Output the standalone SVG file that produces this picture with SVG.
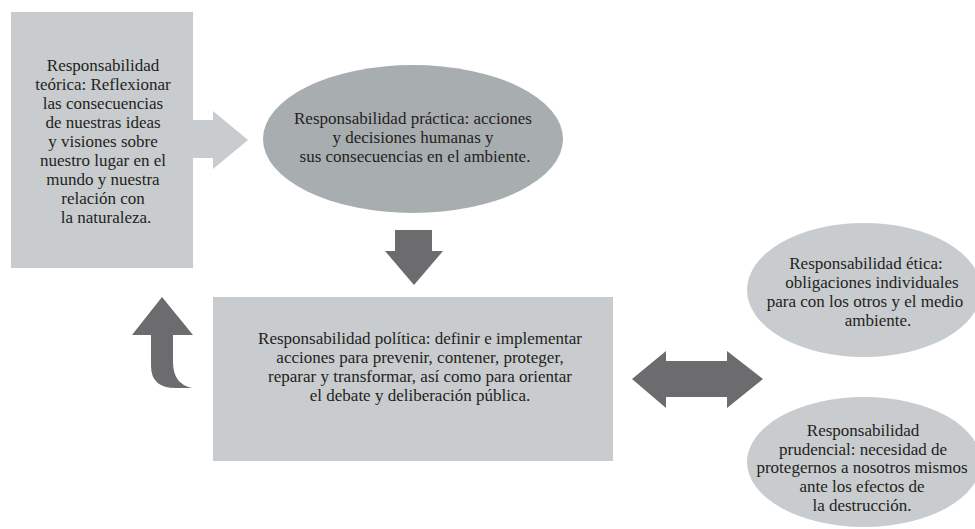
<svg xmlns="http://www.w3.org/2000/svg" width="975" height="529" viewBox="0 0 975 529">
  <style>
    .light { fill: #c8ccce; }
    .mid { fill: #a8adb0; }
    .dark { fill: #6c6c6e; }
    .lbl { font-family: "Liberation Serif", "Times New Roman", serif; font-size: 17px; fill: #231f20; text-anchor: middle; }
  </style>
  <rect width="975" height="529" fill="#ffffff"/>

  <!-- connectors -->
  <g id="connectors">
    <path id="arrow-teorica-practica" class="light" d="M193,120 L213,120 L213,111 L248,140 L213,169 L213,158 L193,158 Z"/>
    <path id="arrow-practica-politica" class="dark" d="M395,230 L432,230 L432,251 L443,251 L414,285 L385,251 L395,251 Z"/>
    <path id="arrow-politica-teorica" class="dark" d="M151,335 L151,366 Q151,388 176,388 L192,388 Q173,384 173,362 L173,335 L193,335 L162,297 L132,335 Z"/>
    <path id="arrow-politica-etica" class="dark" d="M632,379 L666,351 L666,361 L727,361 L727,351 L763,379 L727,408 L727,397 L666,397 L666,408 Z"/>
  </g>

  <g class="lbl">
    <g id="node-teorica">
      <rect class="light" x="11" y="12" width="182" height="256"/>
      <text x="103" y="71">Responsabilidad</text>
      <text x="103" y="90">teórica: Reflexionar</text>
      <text x="103" y="109">las consecuencias</text>
      <text x="103" y="128">de nuestras ideas</text>
      <text x="103" y="147">y visiones sobre</text>
      <text x="103" y="166">nuestro lugar en el</text>
      <text x="103" y="185">mundo y nuestra</text>
      <text x="103" y="204">relación con</text>
      <text x="106" y="223">la naturaleza.</text>
    </g>

    <g id="node-practica">
      <ellipse class="mid" cx="413" cy="139" rx="150" ry="74"/>
      <text x="413" y="124">Responsabilidad práctica: acciones</text>
      <text x="413" y="143">y decisiones humanas y</text>
      <text x="415" y="162">sus consecuencias en el ambiente.</text>
    </g>

    <g id="node-politica">
      <rect class="light" x="213" y="297" width="400" height="164"/>
      <text x="420" y="344">Responsabilidad política: definir e implementar</text>
      <text x="420" y="363">acciones para prevenir, contener, proteger,</text>
      <text x="420" y="382">reparar y transformar, así como para orientar</text>
      <text x="420" y="401">el debate y deliberación pública.</text>
    </g>

    <g id="node-etica">
      <ellipse class="light" cx="864" cy="290" rx="117" ry="67"/>
      <text x="866" y="269">Responsabilidad ética:</text>
      <text x="872" y="288">obligaciones individuales</text>
      <text x="865" y="307">para con los otros y el medio</text>
      <text x="878" y="326">ambiente.</text>
    </g>

    <g id="node-prudencial">
      <ellipse class="light" cx="864" cy="462" rx="117" ry="65"/>
      <text x="863" y="436">Responsabilidad</text>
      <text x="863" y="455">prudencial: necesidad de</text>
      <text x="862" y="473">protegernos a nosotros mismos</text>
      <text x="862" y="492">ante los efectos de</text>
      <text x="862" y="511">la destrucción.</text>
    </g>
  </g>
</svg>
